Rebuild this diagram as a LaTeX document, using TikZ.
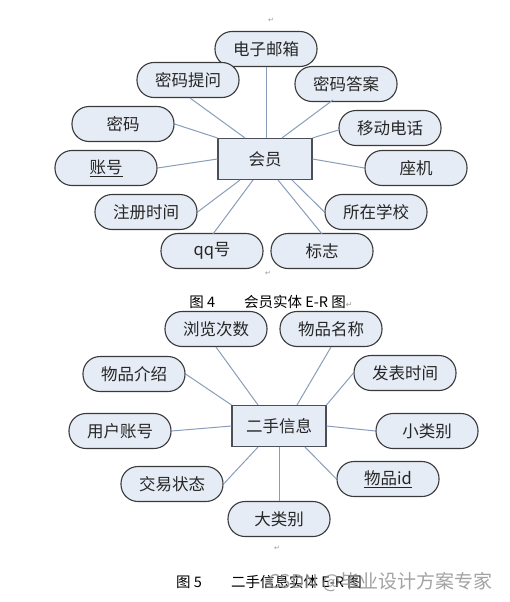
\documentclass[tikz,border=0pt]{standalone}
\usepackage{fontspec}
\setmainfont{Liberation Serif}
\newfontfamily\cjk{Noto Sans CJK SC}
\newfontfamily\djv{DejaVu Sans}
\definecolor{attrfill}{HTML}{E6ECF6}
\definecolor{attrdraw}{HTML}{3A3A3A}
\definecolor{entdraw}{HTML}{4A4F58}
\definecolor{linkcol}{HTML}{8A9DBA}
\definecolor{markcol}{HTML}{9A9A9A}
\tikzset{
  attr/.style={draw=attrdraw, line width=1.1pt, fill=attrfill, rounded corners=17pt,
    minimum width=102pt, minimum height=35pt, inner sep=0pt,
    font=\cjk\fontsize{16.5}{16.5}\selectfont, text=black!85},
  ent/.style={draw=entdraw, line width=1.1pt, fill=attrfill,
    minimum width=94pt, minimum height=41pt, inner sep=0pt,
    font=\cjk\fontsize{16.5}{16.5}\selectfont, text=black!85},
  link/.style={draw=linkcol, line width=1pt},
  caption/.style={font=\cjk\fontsize{14.5}{14.5}\selectfont, text=black, inner sep=0pt},
  pmark/.style={font=\djv\fontsize{7}{7}\selectfont, text=markcol, inner sep=0pt},
  wmark/.style={font=\cjk\fontsize{19}{19}\selectfont, text=black!45, opacity=0.8, inner sep=0pt, anchor=west}
}
\begin{document}
\begin{tikzpicture}[x=1pt,y=-1pt]
\useasboundingbox[fill=white] (0,0) rectangle (510,602);
% ---------- figure 4 ----------
\node[pmark] (pm1) at (271,20) {↵};
\node[ent] (hy) at (265,159) {会员};
\node[attr] (yx) at (266,49) {电子邮箱};
\node[attr] (tw) at (188,80) {密码提问};
\node[attr] (da) at (346,84) {密码答案};
\node[attr] (mm) at (123,124) {密码};
\node[attr] (dh) at (390,128) {移动电话};
\node[attr] (zh) at (106,168) {\underline{账号}};
\node[attr] (zj) at (416,168) {座机};
\node[attr] (sj) at (146,212) {注册时间};
\node[attr] (xx) at (376,212) {所在学校};
\node[attr] (qq) at (212,251) {qq号};
\node[attr] (bz) at (322,251) {标志};
\node[pmark] (pm2) at (268,273) {↵};
\node[caption] (cap4) at (271,302) {图 4\hspace{2em}会员实体 E-R 图{\djv\fontsize{8}{8}\selectfont\color{markcol}↵}};
\draw[link] (yx.south) -- (yx.south |- hy.north);
\draw[link] (190,98) coordinate (c1) -- ([xshift=-20pt]hy.north);
\draw[link] (333,100) coordinate (c2) -- ([xshift=17pt]hy.north);
\draw[link] (dh.west) ++(0,2) coordinate (c3) -- (hy.north east);
\draw[link] (mm.east) -- (hy.north west);
\draw[link] (zh.east) -- (hy.west);
\draw[link] (hy.east) -- (zj.west);
\draw[link] (sj.east) -- ([xshift=-25pt]hy.south);
\draw[link] (213,234) coordinate (c4) -- ([xshift=-12pt]hy.south);
\draw[link] (322,234) coordinate (c5) -- ([xshift=13pt]hy.south);
\draw[link] (xx.west) -- ([xshift=27pt]hy.south);
% ---------- figure 5 ----------
\node[ent] (es) at (279,426) {二手信息};
\node[attr] (ll) at (216,329) {浏览次数};
\node[attr] (mc) at (331,329) {物品名称};
\node[attr] (js) at (134,374) {物品介绍};
\node[attr] (fb) at (405,373) {发表时间};
\node[attr] (yh) at (120,431) {用户账号};
\node[attr] (xl) at (427,431) {小类别};
\node[attr] (jy) at (172,484) {交易状态};
\node[attr] (id) at (388,479) {\underline{物品id}};
\node[attr] (dl) at (279,519) {大类别};
\node[pmark] (pm3) at (277,548) {↵};
\node[caption] (cap5) at (269,582) {图 5\hspace{2em}二手信息实体 E-R 图};
\node[wmark] (wm) at (268,582) {CSDN @毕业设计方案专家};
\draw[link] (ll.south) -- ([xshift=-21pt]es.north);
\draw[link] (mc.south) -- ([xshift=18pt]es.north);
\draw[link] (js.east) -- (es.north west);
\draw[link] (fb.west) -- (es.north east);
\draw[link] (yh.east) -- (es.west);
\draw[link] (es.east) -- (xl.west);
\draw[link] (jy.east) -- ([xshift=-21pt]es.south);
\draw[link] (dl.north) -- (es.south);
\draw[link] (id.west) -- ([xshift=26pt]es.south);
\end{tikzpicture}
\end{document}
